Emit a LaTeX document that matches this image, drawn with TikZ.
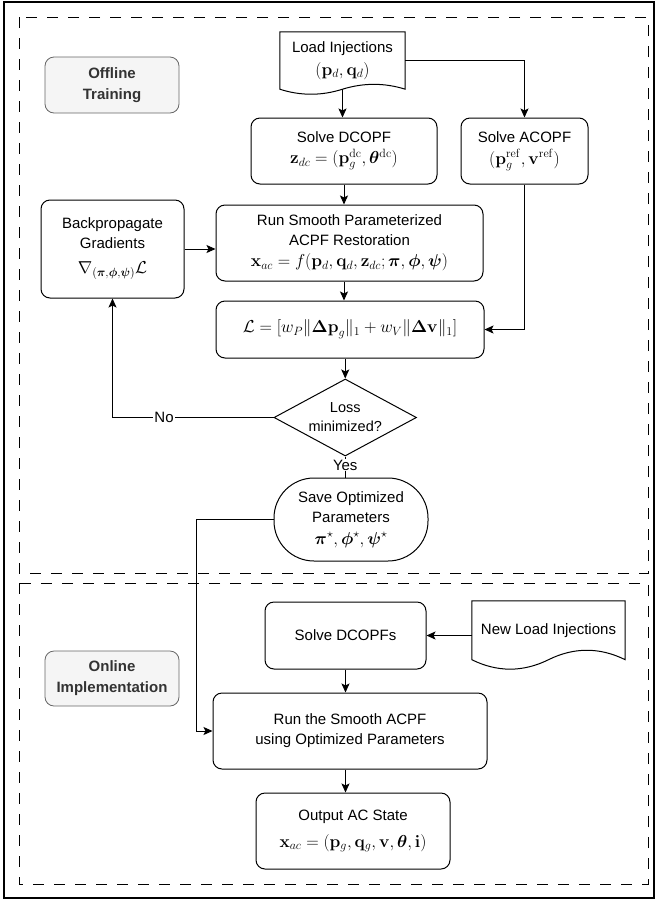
\documentclass[tikz,border=0pt]{standalone}
\usepackage{amsmath,bm}
\usepackage[no-math]{fontspec}
\setmainfont{Liberation Sans}
\usetikzlibrary{arrows.meta,shapes.geometric,calc}
\definecolor{lblfill}{HTML}{F5F5F5}
\definecolor{lbldraw}{HTML}{666666}
\definecolor{lbltext}{HTML}{333333}
\newcommand{\mth}[1]{{\fontsize{17}{20}\selectfont$#1$}}
\begin{document}
\begin{tikzpicture}[x=1pt,y=-1pt,
  every node/.style={font=\fontsize{15}{20}\selectfont, align=center},
  box/.style={draw, rounded corners=9pt, line width=1pt, inner sep=0pt},
  lbl/.style={draw=lbldraw, fill=lblfill, text=lbltext, rounded corners=9pt, line width=0.8pt, inner sep=0pt, font=\fontsize{15}{21}\selectfont\bfseries},
  arr/.style={-{Stealth[length=9pt,width=8pt,inset=2pt]}, line width=1pt},
  ln/.style={line width=1pt},
  dsh/.style={dash pattern=on 11pt off 10pt, line width=1pt},
  lab/.style={fill=white, inner sep=1pt}]
\useasboundingbox (0,0) rectangle (657,903);
\draw[line width=1.4pt] (4,2) rectangle (654,898);
\draw[dsh] (19,17) rectangle (648,573);
\draw[dsh] (19,583) rectangle (648,884);

\node[lbl, minimum width=134pt, minimum height=56pt] (offl) at (112,85) {Offline\\Training};
\node[lbl, minimum width=134pt, minimum height=55pt] (onl) at (112,678.5) {Online\\Implementation};

\node[minimum width=125pt, minimum height=57pt, inner sep=0pt] (load) at (342.5,60.5) {Load Injections\\[3pt]\mth{(\mathbf{p}_d,\mathbf{q}_d)}};
\draw[ln] (load.south west) -- (load.north west) -- (load.north east) -- (load.south east)
  .. controls +(-20.7,-6.5) and +(21,-6.5) .. (load.south)
  .. controls +(-21,6.7) and +(20.7,6.7) .. (load.south west) -- cycle;

\node[box, minimum width=186pt, minimum height=66pt] (dcopf) at (344,151) {Solve DCOPF\\[1pt]\mth{\mathbf{z}_{dc} = (\mathbf{p}_g^{\mathrm{dc}}, \boldsymbol{\theta}^{\mathrm{dc}})}};
\node[box, minimum width=127pt, minimum height=66pt] (acopf) at (524.5,151) {Solve ACOPF\\[2pt]\mth{(\mathbf{p}_g^{\mathrm{ref}}, \mathbf{v}^{\mathrm{ref}})}};
\node[box, minimum width=143pt, minimum height=98pt] (backprop) at (112.5,249) {Backpropagate\\Gradients\\[5pt]\mth{\nabla_{(\boldsymbol{\pi},\boldsymbol{\phi},\boldsymbol{\psi})}\mathcal{L}}};
\node[box, minimum width=267pt, minimum height=76pt] (run) at (349.5,243) {Run Smooth Parameterized\\ACPF Restoration\\[1pt]\mth{\mathbf{x}_{ac} = f(\mathbf{p}_d, \mathbf{q}_d, \mathbf{z}_{dc}; \boldsymbol{\pi}, \boldsymbol{\phi}, \boldsymbol{\psi})}};
\node[box, minimum width=268pt, minimum height=57pt] (loss) at (350,329.5) {\mth{\mathcal{L} =[w_P \|\mathbf{\Delta p}_g\|_1 + w_V \|\mathbf{\Delta v}\|_1]}};
\node[draw, diamond, line width=1pt, aspect=1.85, minimum width=142.5pt, minimum height=77pt, inner sep=-4pt, font=\fontsize{14.5}{19}\selectfont] (dec) at (345.25,417.5) {Loss\\minimized?};
\node[draw, line width=1pt, rounded corners=40pt, minimum width=154pt, minimum height=83pt, inner sep=0pt] (save) at (351,519.5) {Save Optimized\\Parameters\\[2pt]\mth{\boldsymbol{\pi}^\star, \boldsymbol{\phi}^\star, \boldsymbol{\psi}^\star}};

\node[box, minimum width=161pt, minimum height=67pt] (dcopfs) at (345.5,635.5) {Solve DCOPFs};
\node[minimum width=153pt, minimum height=58.5pt, inner sep=0pt] (newload) at (548.5,630.25) {New Load Injections};
\draw[ln] (newload.south west) -- (newload.north west) -- (newload.north east) -- (newload.south east)
  .. controls +(-25.5,-12.6) and +(25.5,-12.6) .. (newload.south)
  .. controls +(-25.5,12.6) and +(25.5,12.6) .. (newload.south west) -- cycle;
\node[box, minimum width=274pt, minimum height=76pt] (runacpf) at (350,731) {Run the Smooth ACPF\\using Optimized Parameters};
\node[box, minimum width=194pt, minimum height=76pt] (output) at (353,831) {Output AC State\\[7pt]\mth{\mathbf{x}_{ac} = (\mathbf{p}_g, \mathbf{q}_g, \mathbf{v}, \boldsymbol{\theta}, \mathbf{i})}};

\draw[arr] (load.south) -- (load.south |- dcopf.north);
\draw[arr] (load.east) -| (acopf.north);
\draw[arr] (dcopf.south) -- (dcopf.south |- run.north);
\draw[arr] (backprop.east) -- (backprop.east -| run.west);
\draw[arr] (dcopf.south |- run.south) -- (dcopf.south |- loss.north);
\draw[arr] (acopf.south) |- (loss.east);
\draw[arr] (dec.north |- loss.south) -- (dec.north);
\draw[arr] (dec.west) -| node[lab, pos=0.34] {No} (backprop.south);
\draw[ln] (dec.south) -- node[lab, pos=0.41] {Yes} (dec.south |- save.north);
\coordinate (bend) at (196,519.5);
\draw[arr] (save.west) -- (bend) |- (runacpf.west);
\draw[arr] (newload.west |- dcopfs.east) -- (dcopfs.east);
\draw[arr] (dcopfs.south) -- (dcopfs.south |- runacpf.north);
\draw[arr] (dcopfs.south |- runacpf.south) -- (dcopfs.south |- output.north);
\end{tikzpicture}
\end{document}
